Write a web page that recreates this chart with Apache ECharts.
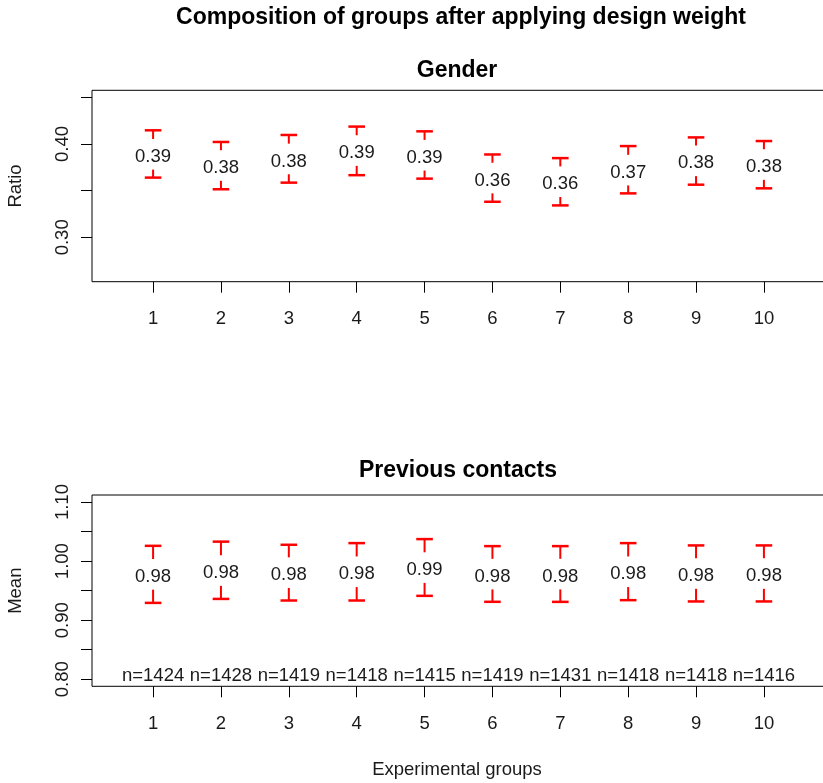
<!DOCTYPE html>
<html>
<head>
<meta charset="utf-8">
<script src="https://cdn.jsdelivr.net/npm/echarts@6/dist/echarts.min.js"></script>
<style>
html,body{margin:0;padding:0;background:#fff;}
#chart{width:823px;height:783px;}
</style>
</head>
<body>
<div id="chart"></div>
<script>
// ---- Data ----
var groups = [1, 2, 3, 4, 5, 6, 7, 8, 9, 10];
var genderMean  = [0.389, 0.377, 0.384, 0.393, 0.388, 0.3635, 0.3596, 0.372, 0.382, 0.378];
var genderLow   = [0.364, 0.3515, 0.3586, 0.3666, 0.3629, 0.3381, 0.3342, 0.3471, 0.3564, 0.3525];
var genderHigh  = [0.4147, 0.4022, 0.4097, 0.4187, 0.4136, 0.3888, 0.3849, 0.3978, 0.4071, 0.4032];
var contactMean = [0.9776, 0.984, 0.9805, 0.982, 0.989, 0.978, 0.978, 0.982, 0.979, 0.979];
var contactLow  = [0.9293, 0.936, 0.9333, 0.9333, 0.9412, 0.9311, 0.931, 0.9339, 0.9317, 0.9317];
var contactHigh = [1.0259, 1.033, 1.0277, 1.0305, 1.0373, 1.0254, 1.0254, 1.0305, 1.0266, 1.0266];
var groupN = [1424, 1428, 1419, 1418, 1415, 1419, 1431, 1418, 1418, 1416];
var genderTicks = [0.30, 0.35, 0.40, 0.45];
var genderLabels = [0.30, 0.40];
var contactTicks = [0.80, 0.85, 0.90, 0.95, 1.00, 1.05, 1.10];
var contactLabels = [0.80, 0.90, 1.00, 1.10];
var genderLim = [0.26, 0.45];
var contactLim = [0.80, 1.10];

var FONT = '"Liberation Sans", Arial, sans-serif';
var TXT = '#1a1a1a';

function expand(lim) { var d = (lim[1] - lim[0]) * 0.04; return [lim[0] - d, lim[1] + d]; }
var gY = expand(genderLim), cY = expand(contactLim);

function build(mean, lo, hi) {
  return groups.map(function (g, i) { return [g, mean[i], lo[i], hi[i]]; });
}

function renderBar(params, api) {
  var x = api.value(0), m = api.value(1), lo = api.value(2), hi = api.value(3);
  var pm = api.coord([x, m]), plo = api.coord([x, lo]), phi = api.coord([x, hi]);
  var cx = pm[0], gap = 15.3, hw = 8.3;
  var st = { stroke: '#ff0000', lineWidth: 2 };
  var cap = { stroke: '#ff0000', lineWidth: 2.5 };
  return {
    type: 'group',
    children: [
      { type: 'line', shape: { x1: cx - hw, y1: phi[1], x2: cx + hw, y2: phi[1] }, style: cap },
      { type: 'line', shape: { x1: cx, y1: phi[1], x2: cx, y2: pm[1] - gap }, style: st },
      { type: 'line', shape: { x1: cx - hw, y1: plo[1], x2: cx + hw, y2: plo[1] }, style: cap },
      { type: 'line', shape: { x1: cx, y1: plo[1], x2: cx, y2: pm[1] + gap }, style: st },
      { type: 'text', x: cx, y: pm[1] + 2.5,
        style: { text: m.toFixed(2), fill: TXT, font: '18.5px ' + FONT, align: 'center', verticalAlign: 'middle' } }
    ]
  };
}

function renderN(params, api) {
  var x = api.value(0), n = api.value(1);
  var p = api.coord([x, contactLim[0]]);
  return { type: 'text', x: p[0], y: p[1] - 3,
    style: { text: 'n=' + n, fill: TXT, font: '18.5px ' + FONT, align: 'center', verticalAlign: 'middle' } };
}

function xAxis(gi) {
  return {
    type: 'value', gridIndex: gi, min: 0.1, max: 10.9,
    axisLine: { show: false }, splitLine: { show: false },
    axisTick: { show: true, customValues: groups, length: 11, lineStyle: { color: '#000', width: 1 } },
    axisLabel: { show: true, customValues: groups, margin: 28, fontSize: 18.5, fontFamily: FONT, color: TXT }
  };
}
function yAxis(gi, lim, ticks, labels) {
  return {
    type: 'value', gridIndex: gi, min: lim[0], max: lim[1],
    axisLine: { show: false }, splitLine: { show: false },
    axisTick: { show: true, customValues: ticks, length: 11, lineStyle: { color: '#000', width: 1 } },
    axisLabel: { show: true, customValues: labels, rotate: 90, margin: 20, fontSize: 18.5, fontFamily: FONT, color: TXT,
      formatter: function (v) { return Number(v).toFixed(2); } }
  };
}

var chart = echarts.init(document.getElementById('chart'), null, { renderer: 'canvas' });
chart.setOption({
  animation: false,
  backgroundColor: '#fff',
  grid: [
    { left: 92, top: 90.3, width: 733, height: 191.4, outerBoundsMode: 'none', containLabel: false, show: true, borderColor: '#000', borderWidth: 1, backgroundColor: 'transparent' },
    { left: 92, top: 495, width: 733, height: 191.3, outerBoundsMode: 'none', containLabel: false, show: true, borderColor: '#000', borderWidth: 1, backgroundColor: 'transparent' }
  ],
  xAxis: [xAxis(0), xAxis(1)],
  yAxis: [yAxis(0, gY, genderTicks, genderLabels), yAxis(1, cY, contactTicks, contactLabels)],
  graphic: [
    { type: 'text', x: 461, y: 18, style: { text: 'Composition of groups after applying design weight', font: 'bold 23px ' + FONT, fill: '#000', align: 'center', verticalAlign: 'middle' } },
    { type: 'text', x: 457, y: 70.5, style: { text: 'Gender', font: 'bold 23px ' + FONT, fill: '#000', align: 'center', verticalAlign: 'middle' } },
    { type: 'text', x: 458, y: 471, style: { text: 'Previous contacts', font: 'bold 23px ' + FONT, fill: '#000', align: 'center', verticalAlign: 'middle' } },
    { type: 'text', x: 15.5, y: 186, rotation: Math.PI / 2, style: { text: 'Ratio', font: '18.5px ' + FONT, fill: TXT, align: 'center', verticalAlign: 'middle' } },
    { type: 'text', x: 15.5, y: 590.7, rotation: Math.PI / 2, style: { text: 'Mean', font: '18.5px ' + FONT, fill: TXT, align: 'center', verticalAlign: 'middle' } },
    { type: 'text', x: 457, y: 770, style: { text: 'Experimental groups', font: '18.5px ' + FONT, fill: TXT, align: 'center', verticalAlign: 'middle' } }
  ],
  series: [
    { type: 'custom', xAxisIndex: 0, yAxisIndex: 0, renderItem: renderBar, data: build(genderMean, genderLow, genderHigh), clip: false },
    { type: 'custom', xAxisIndex: 1, yAxisIndex: 1, renderItem: renderBar, data: build(contactMean, contactLow, contactHigh), clip: false },
    { type: 'custom', xAxisIndex: 1, yAxisIndex: 1, renderItem: renderN, data: groups.map(function (g, i) { return [g, groupN[i]]; }), clip: false }
  ]
});
</script>
</body>
</html>
